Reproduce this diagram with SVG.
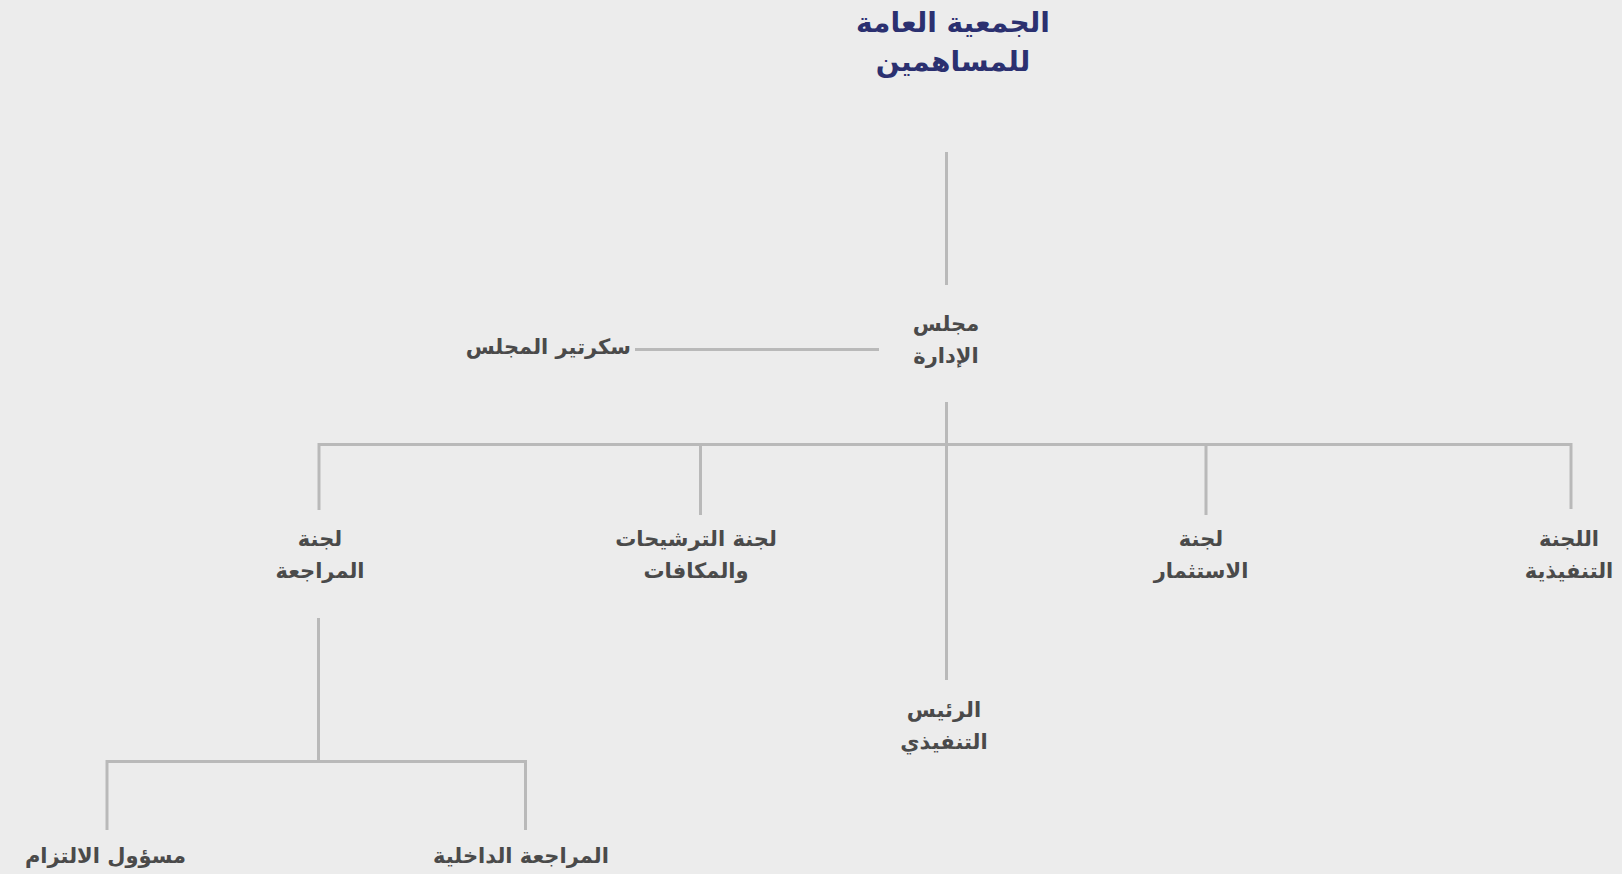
<svg xmlns="http://www.w3.org/2000/svg" width="1622" height="874" viewBox="0 0 1622 874">
<style>
.bg{fill:#ececec}
.ln{stroke:#b9b9b9;stroke-width:3;fill:none;stroke-linecap:butt}
.t{font-family:"DejaVu Sans","Noto Sans",sans-serif;font-weight:bold;font-size:21px;fill:#4a4a4a;text-anchor:middle}
.title{font-family:"DejaVu Sans","Noto Sans",sans-serif;font-weight:bold;font-size:28px;fill:#2b3070;text-anchor:middle}
</style>
<rect class="bg" x="0" y="0" width="1622" height="874"/>
<g id="connectors">
<line class="ln" x1="946.5" y1="152" x2="946.5" y2="285"/>
<line class="ln" x1="635" y1="349.5" x2="879" y2="349.5"/>
<line class="ln" x1="946.5" y1="402" x2="946.5" y2="680"/>
<path class="ln" d="M319 510 V444.5 H1571 V509"/>
<line class="ln" x1="700.5" y1="444.5" x2="700.5" y2="515"/>
<line class="ln" x1="1206" y1="444.5" x2="1206" y2="515"/>
<line class="ln" x1="318.5" y1="618" x2="318.5" y2="761.5"/>
<path class="ln" d="M107 830 V761.5 H525.5 V830"/>
</g>
<g id="general-assembly">
<text class="title" x="953" y="32">الجمعية العامة</text>
<text class="title" x="953" y="71">للمساهمين</text>
</g>
<g id="board">
<text class="t" x="946" y="331">مجلس</text>
<text class="t" x="946" y="363">الإدارة</text>
</g>
<g id="secretary">
<text class="t" x="631" y="354" style="text-anchor:end">سكرتير المجلس</text>
</g>
<g id="audit-committee">
<text class="t" x="320" y="546">لجنة</text>
<text class="t" x="320" y="578">المراجعة</text>
</g>
<g id="nominations-committee">
<text class="t" x="696" y="546">لجنة الترشيحات</text>
<text class="t" x="696" y="578">والمكافات</text>
</g>
<g id="investment-committee">
<text class="t" x="1201" y="546">لجنة</text>
<text class="t" x="1201" y="578">الاستثمار</text>
</g>
<g id="executive-committee">
<text class="t" x="1569" y="546">اللجنة</text>
<text class="t" x="1569" y="578">التنفيذية</text>
</g>
<g id="ceo">
<text class="t" x="944" y="717">الرئيس</text>
<text class="t" x="944" y="749">التنفيذي</text>
</g>
<g id="compliance-officer">
<text class="t" x="105.5" y="863">مسؤول الالتزام</text>
</g>
<g id="internal-audit">
<text class="t" x="521" y="863">المراجعة الداخلية</text>
</g>
</svg>
